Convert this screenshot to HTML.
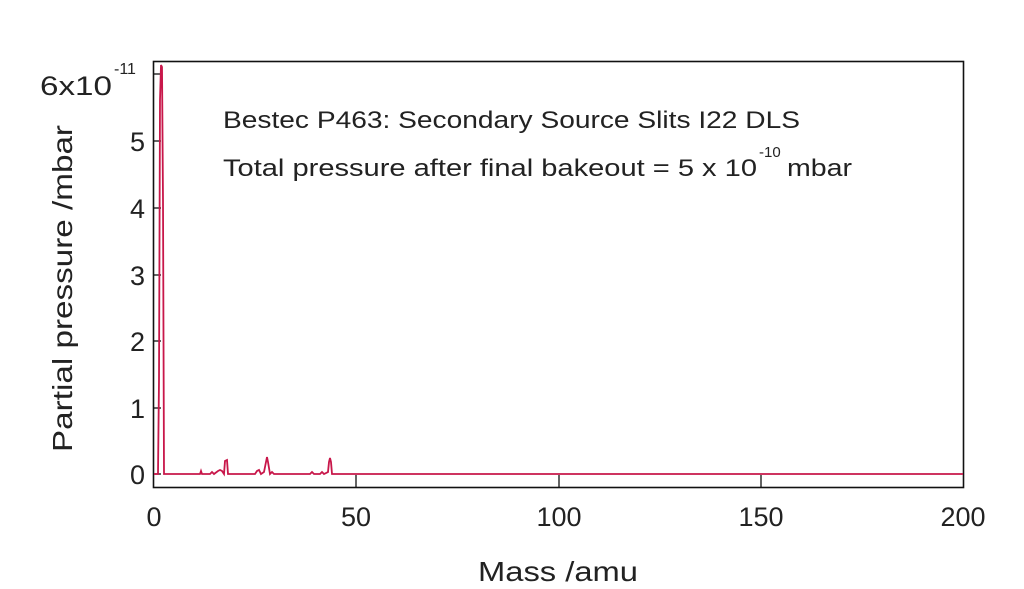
<!DOCTYPE html>
<html><head><style>body{margin:0;background:#fff}svg{display:block}text{font-family:"Liberation Sans",sans-serif;fill:#222}</style></head>
<body><svg width="1024" height="589" viewBox="0 0 1024 589">
<rect x="153.5" y="61.5" width="810" height="426" fill="none" stroke="#111" stroke-width="1.6"/>
<g stroke="#111" stroke-width="1.3">
<line x1="153" y1="474" x2="161" y2="474"/><line x1="153" y1="408" x2="161" y2="408"/><line x1="153" y1="341" x2="161" y2="341"/><line x1="153" y1="275" x2="161" y2="275"/><line x1="153" y1="208" x2="161" y2="208"/><line x1="153" y1="141" x2="161" y2="141"/><line x1="153" y1="74" x2="161" y2="74"/>
<line x1="356" y1="487" x2="356" y2="475"/><line x1="559" y1="487" x2="559" y2="475"/><line x1="761" y1="487" x2="761" y2="475"/>
</g>
<g font-size="27" text-anchor="end">
<text x="145" y="484">0</text><text x="145" y="418">1</text><text x="145" y="351">2</text><text x="145" y="285">3</text><text x="145" y="218">4</text><text x="145" y="151">5</text>
</g>
<text x="40" y="95" font-size="27" textLength="72" lengthAdjust="spacingAndGlyphs">6x10</text>
<text x="114" y="74" font-size="16">-11</text>
<g font-size="27" text-anchor="middle">
<text x="154" y="526">0</text><text x="356" y="526">50</text><text x="559" y="526">100</text><text x="761" y="526">150</text><text x="963" y="526">200</text>
</g>
<text x="478" y="581" font-size="28" textLength="160" lengthAdjust="spacingAndGlyphs">Mass /amu</text>
<text transform="translate(72,452) rotate(-90)" font-size="28" textLength="327" lengthAdjust="spacingAndGlyphs">Partial pressure /mbar</text>
<text x="223" y="128" font-size="24" textLength="577" lengthAdjust="spacingAndGlyphs">Bestec P463: Secondary Source Slits I22 DLS</text>
<text x="223" y="176" font-size="24" textLength="534" lengthAdjust="spacingAndGlyphs">Total pressure after final bakeout = 5 x 10</text>
<text x="759" y="157" font-size="15">-10</text>
<text x="787" y="176" font-size="24" textLength="65" lengthAdjust="spacingAndGlyphs">mbar</text>
<polyline fill="none" stroke="#c8174a" stroke-width="1.8" points="154,474 158,474 159,380 160,100 161,65 162,67 163,200 164,474 200,474 201,471 202,474 210,474 212,472 214,474 218,471 220,470 222,471 224,474 225,461 227,460 228,474 255,474 257,471 259,470 261,474 264,472 266,462 267,457 268,462 270,474 272,472 274,474 310,474 312,472 314,474 320,474 322,472 324,474 328,472 329,462 330,458 331,462 332,474 963,474"/>
</svg></body></html>
